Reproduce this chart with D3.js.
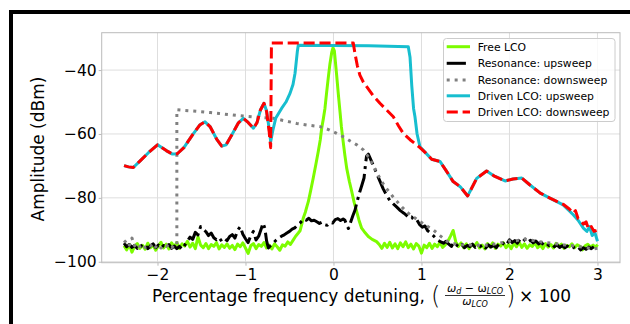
<!DOCTYPE html>
<html>
<head>
<meta charset="utf-8">
<script src="https://cdn.jsdelivr.net/npm/d3@7"></script>
<style>
  body { margin: 0; background: #fff; }
  svg { display: block; font-family: "DejaVu Sans", sans-serif; }
</style>
</head>
<body>
<div id="chart"></div>
<script>
// Tick labels
const xTicks = [-2, -1, 0, 1, 2, 3];
const yTicks = [-100, -80, -60, -40];

// Free LCO (green), [detuning %, dBm]
const freeLco = [
  [-2.38,-95.0],[-2.35,-96.3],[-2.32,-94.6],[-2.29,-97.0],[-2.26,-95.1],[-2.23,-94.3],[-2.20,-95.8],[-2.17,-94.9],
  [-2.14,-96.1],[-2.11,-94.2],[-2.08,-95.6],[-2.05,-94.8],[-2.02,-96.4],[-1.99,-95.0],[-1.96,-93.9],[-1.93,-95.7],
  [-1.90,-94.5],[-1.87,-96.0],[-1.84,-94.1],[-1.81,-95.3],[-1.78,-94.0],[-1.75,-95.8],[-1.72,-94.4],[-1.69,-95.1],
  [-1.66,-93.6],[-1.63,-95.4],[-1.60,-94.2],[-1.57,-95.9],[-1.54,-92.2],[-1.51,-94.8],[-1.48,-95.6],[-1.45,-94.3],
  [-1.42,-95.9],[-1.39,-94.6],[-1.36,-95.2],[-1.33,-94.0],[-1.30,-96.0],[-1.27,-94.7],[-1.24,-95.5],[-1.21,-94.4],
  [-1.18,-95.8],[-1.15,-94.9],[-1.12,-96.2],[-1.09,-94.5],[-1.06,-95.3],[-1.03,-94.1],[-1.00,-95.7],[-0.97,-97.4],
  [-0.94,-95.0],[-0.91,-94.3],[-0.88,-95.9],[-0.85,-94.6],[-0.82,-95.2],[-0.79,-94.0],[-0.76,-95.7],[-0.73,-94.8],
  [-0.70,-96.0],[-0.67,-94.4],[-0.64,-95.3],[-0.61,-96.4],[-0.58,-94.7],[-0.55,-95.1],[-0.52,-93.8],[-0.49,-94.6],
  [-0.46,-93.3],[-0.43,-92.0],[-0.40,-91.0],[-0.38,-90.3],[-0.36,-88.2],[-0.343,-86.3],[-0.32,-84.5],[-0.30,-82.5],
  [-0.286,-81.2],[-0.26,-77.8],[-0.23,-73.8],[-0.20,-69.5],[-0.173,-65.5],[-0.15,-61.8],[-0.134,-58.2],[-0.115,-55.2],
  [-0.097,-52.0],[-0.08,-47.5],[-0.06,-42.6],[-0.04,-38.0],[-0.02,-34.5],[-0.005,-33.0],[0.01,-34.0],[0.036,-41.6],
  [0.055,-47.5],[0.074,-53.0],[0.09,-57.8],[0.11,-62.4],[0.13,-66.8],[0.15,-70.7],[0.18,-74.8],[0.207,-78.0],
  [0.235,-81.4],[0.264,-84.3],[0.29,-87.0],[0.32,-89.5],[0.35,-90.6],[0.396,-92.1],[0.44,-93.0],[0.49,-93.7],
  [0.52,-94.6],[0.55,-95.8],[0.58,-94.2],[0.61,-95.5],[0.64,-93.9],[0.67,-95.7],[0.70,-94.4],[0.73,-95.9],
  [0.76,-94.1],[0.79,-95.3],[0.82,-93.8],[0.85,-95.6],[0.88,-94.5],[0.91,-96.0],[0.94,-94.3],[0.97,-95.1],
  [1.00,-97.3],[1.03,-94.8],[1.06,-95.6],[1.09,-94.2],[1.12,-95.8],[1.15,-94.5],[1.18,-95.3],[1.21,-93.9],
  [1.24,-95.5],[1.27,-94.7],[1.30,-93.6],[1.33,-92.0],[1.36,-90.2],[1.39,-93.8],[1.42,-95.2],[1.45,-94.1],
  [1.48,-95.6],[1.51,-94.4],[1.54,-95.9],[1.57,-94.6],[1.60,-95.2],[1.63,-94.0],[1.66,-95.7],[1.69,-94.8],
  [1.72,-96.0],[1.75,-94.3],[1.78,-95.4],[1.81,-94.1],[1.84,-95.8],[1.87,-94.5],[1.90,-95.1],[1.93,-94.0],
  [1.96,-95.6],[1.99,-94.6],[2.02,-95.9],[2.05,-94.2],[2.08,-95.3],[2.11,-93.9],[2.14,-95.5],[2.17,-94.4],
  [2.20,-95.8],[2.23,-94.7],[2.26,-95.2],[2.29,-94.1],[2.32,-95.6],[2.35,-94.8],[2.38,-95.9],[2.41,-94.3],
  [2.44,-95.4],[2.47,-94.6],[2.50,-95.7],[2.53,-94.2],[2.56,-95.1],[2.59,-94.5],[2.62,-95.8],[2.65,-94.9],
  [2.68,-95.3],[2.71,-94.4],[2.74,-95.6],[2.77,-94.7],[2.80,-95.2],[2.83,-96.3],[2.86,-95.0],[2.89,-94.5],
  [2.92,-95.4],[2.95,-94.8],[2.98,-95.5],[3.00,-94.6]
];

// Resonance: upsweep (black, dash-dot)
const resUp = [
  [-2.38,-94.2],[-2.35,-95.3],[-2.32,-94.6],[-2.29,-95.5],[-2.26,-94.9],[-2.23,-95.8],[-2.20,-94.6],[-2.17,-95.4],
  [-2.14,-94.8],[-2.11,-95.9],[-2.08,-95.0],[-2.05,-94.4],[-2.02,-95.6],[-1.99,-94.8],[-1.96,-95.7],[-1.93,-94.9],
  [-1.90,-95.4],[-1.87,-94.6],[-1.84,-95.8],[-1.81,-95.1],[-1.78,-95.9],[-1.75,-95.2],[-1.72,-96.1],[-1.69,-94.8],
  [-1.66,-93.5],[-1.63,-92.3],[-1.60,-93.0],[-1.57,-90.8],[-1.54,-91.6],[-1.51,-89.0],[-1.48,-89.8],[-1.45,-90.6],
  [-1.42,-91.8],[-1.39,-91.0],[-1.36,-92.5],[-1.33,-93.1],[-1.30,-92.4],[-1.27,-93.6],[-1.24,-92.8],[-1.21,-93.4],
  [-1.18,-92.1],[-1.15,-91.5],[-1.12,-92.6],[-1.09,-90.2],[-1.06,-89.0],[-1.03,-91.4],[-1.00,-92.8],[-0.97,-94.0],
  [-0.94,-91.8],[-0.91,-90.5],[-0.88,-93.2],[-0.85,-92.0],[-0.82,-89.6],[-0.80,-87.9],[-0.78,-89.5],[-0.76,-93.5],
  [-0.74,-95.7],[-0.71,-94.8],[-0.68,-94.0],[-0.65,-93.2],[-0.62,-92.5],[-0.59,-92.0],[-0.56,-91.6],[-0.53,-91.0],
  [-0.50,-90.5],[-0.47,-89.8],[-0.44,-89.4],[-0.41,-88.6],[-0.38,-87.9],[-0.34,-86.6],[-0.31,-87.0],[-0.28,-86.4],
  [-0.25,-87.2],[-0.22,-87.0],[-0.19,-87.5],[-0.16,-88.0],[-0.13,-87.6],[-0.10,-88.4],[-0.07,-88.6],[-0.04,-87.7],
  [-0.01,-87.9],[0.02,-86.8],[0.05,-86.5],[0.08,-87.1],[0.11,-86.6],[0.13,-87.0],[0.15,-88.5],[0.17,-89.6],
  [0.19,-88.0],[0.22,-85.6],[0.245,-83.8],[0.27,-81.0],[0.30,-78.0],[0.325,-75.8],[0.347,-73.8],[0.36,-70.5],
  [0.375,-67.0],[0.396,-66.3],[0.42,-67.8],[0.45,-69.7],[0.49,-72.3],[0.53,-74.9],[0.565,-77.2],[0.60,-79.0],
  [0.64,-80.8],[0.68,-81.9],[0.72,-82.9],[0.76,-84.0],[0.80,-84.8],[0.83,-85.5],[0.86,-86.3],[0.89,-86.0],
  [0.92,-87.2],[0.95,-87.0],[0.98,-88.4],[1.01,-89.2],[1.04,-88.8],[1.07,-90.3],[1.10,-90.9],[1.13,-91.7],
  [1.16,-92.6],[1.19,-93.3],[1.22,-93.8],[1.25,-94.2],[1.28,-93.6],[1.31,-94.5],[1.34,-95.2],[1.37,-93.9],
  [1.40,-94.8],[1.43,-95.4],[1.46,-94.6],[1.49,-95.6],[1.52,-94.9],[1.55,-95.3],[1.58,-94.5],[1.61,-95.5],
  [1.64,-94.8],[1.67,-95.2],[1.70,-94.6],[1.73,-95.7],[1.76,-94.7],[1.79,-95.4],[1.82,-94.9],[1.85,-95.6],
  [1.88,-94.4],[1.91,-94.9],[1.94,-93.8],[1.97,-94.5],[2.00,-93.1],[2.03,-94.0],[2.06,-93.4],[2.09,-94.2],
  [2.12,-93.0],[2.15,-93.7],[2.18,-92.9],[2.21,-93.8],[2.24,-93.3],[2.27,-94.1],[2.30,-93.5],[2.33,-94.4],
  [2.36,-93.9],[2.39,-94.8],[2.42,-94.2],[2.45,-95.0],[2.48,-94.5],[2.51,-95.3],[2.54,-94.7],[2.57,-95.5],
  [2.60,-95.0],[2.63,-95.6],[2.66,-95.1],[2.69,-95.8],[2.72,-95.3],[2.75,-95.9],[2.78,-95.4],[2.81,-96.3],
  [2.84,-95.6],[2.87,-96.1],[2.90,-95.4],[2.93,-95.9],[2.96,-95.3],[2.99,-96.0]
];

// Resonance: downsweep (grey, dotted)
const resDown = [
  [-2.38,-94.0],[-2.35,-93.2],[-2.32,-94.8],[-2.29,-92.6],[-2.26,-95.0],[-2.23,-94.1],[-2.20,-95.3],[-2.17,-94.5],
  [-2.14,-95.6],[-2.11,-94.7],[-2.08,-95.1],[-2.05,-94.2],[-2.02,-95.4],[-1.99,-94.6],[-1.96,-95.7],[-1.93,-94.8],
  [-1.90,-95.2],[-1.87,-94.5],[-1.84,-95.6],[-1.81,-94.9],[-1.78,-95.0],[-1.78,-52.4],[-1.70,-52.6],[-1.60,-52.8],
  [-1.517,-53.0],[-1.40,-53.3],[-1.30,-53.6],[-1.20,-53.9],[-1.10,-54.2],[-1.025,-54.4],[-0.90,-54.7],[-0.80,-54.9],
  [-0.684,-55.1],[-0.55,-55.9],[-0.418,-56.7],[-0.30,-57.2],[-0.153,-57.7],[-0.05,-58.7],[0.036,-59.8],[0.12,-61.0],
  [0.19,-62.2],[0.27,-63.5],[0.34,-65.0],[0.40,-67.3],[0.45,-69.7],[0.50,-72.5],[0.55,-75.0],[0.60,-77.0],
  [0.68,-79.8],[0.756,-82.2],[0.83,-84.4],[0.90,-85.8],[0.983,-87.4],[1.06,-88.8],[1.134,-90.0],[1.21,-91.8],
  [1.29,-93.6],[1.36,-94.3],[1.44,-94.8],[1.52,-94.6],[1.60,-95.0],[1.68,-94.7],[1.76,-94.9],[1.84,-94.4],
  [1.92,-94.0],[2.00,-93.5],[2.08,-93.4],[2.16,-92.9],[2.24,-93.2],[2.32,-93.6],[2.40,-94.0],[2.48,-94.2],
  [2.56,-94.5],[2.64,-94.8],[2.72,-95.0],[2.80,-95.3],[2.88,-95.6],[2.96,-96.0],[3.00,-95.8]
];

// Driven LCO: upsweep (cyan)
const drivenUp = [
  [-2.38,-69.9],[-2.33,-70.3],[-2.275,-70.5],[-2.2,-68.5],[-2.1,-65.8],[-2.0,-63.4],[-1.9,-65.2],[-1.83,-66.3],
  [-1.775,-66.2],[-1.7,-64.3],[-1.6,-60.2],[-1.52,-57.2],[-1.46,-56.2],[-1.40,-57.8],[-1.33,-61.5],[-1.27,-63.8],
  [-1.22,-63.4],[-1.15,-60.0],[-1.08,-56.5],[-1.025,-55.1],[-0.97,-56.4],[-0.91,-58.2],[-0.87,-56.5],[-0.83,-52.5],
  [-0.79,-50.4],[-0.76,-52.8],[-0.73,-58.5],[-0.714,-62.4],[-0.69,-59.0],[-0.657,-55.1],[-0.59,-52.0],[-0.54,-50.0],
  [-0.494,-47.3],[-0.46,-44.5],[-0.437,-41.0],[-0.41,-34.0],[-0.40,-32.2],[0.0,-32.3],[0.4,-32.4],[0.85,-32.7],
  [0.87,-36.0],[0.89,-45.0],[0.91,-52.0],[0.926,-54.6],[0.95,-60.0],[0.983,-64.0],[1.05,-66.0],[1.116,-67.9],
  [1.21,-68.6],[1.28,-71.5],[1.36,-74.9],[1.44,-76.5],[1.525,-79.4],[1.57,-77.0],[1.627,-73.9],[1.74,-71.6],
  [1.835,-73.3],[1.95,-74.7],[2.04,-74.1],[2.14,-73.8],[2.23,-75.9],[2.35,-78.5],[2.46,-80.1],[2.61,-82.2],
  [2.725,-85.3],[2.78,-87.0],[2.84,-89.5],[2.88,-90.5],[2.91,-89.0],[2.94,-91.8],[2.97,-90.8],[3.0,-93.6]
];

// Driven LCO: downsweep (red, dashed)
const drivenDown = [
  [-2.38,-69.9],[-2.33,-70.3],[-2.275,-70.5],[-2.2,-68.5],[-2.1,-65.8],[-2.0,-63.4],[-1.9,-65.2],[-1.83,-66.3],
  [-1.775,-66.2],[-1.7,-64.3],[-1.6,-60.2],[-1.52,-57.2],[-1.46,-56.2],[-1.40,-57.8],[-1.33,-61.5],[-1.27,-63.8],
  [-1.22,-63.4],[-1.15,-60.0],[-1.08,-56.5],[-1.025,-55.1],[-0.97,-56.4],[-0.91,-58.2],[-0.87,-56.5],[-0.83,-52.5],
  [-0.79,-50.4],[-0.76,-53.0],[-0.73,-59.5],[-0.714,-64.3],[-0.705,-31.5],[0.225,-31.5],[0.244,-34.8],[0.27,-38.5],
  [0.30,-41.6],[0.34,-43.8],[0.377,-45.2],[0.45,-48.0],[0.528,-50.4],[0.60,-52.4],[0.68,-54.6],[0.74,-57.5],
  [0.793,-59.8],[0.87,-61.8],[0.945,-63.4],[0.983,-64.3],[1.05,-66.0],[1.116,-67.9],[1.21,-68.6],[1.28,-71.5],
  [1.36,-74.9],[1.44,-76.5],[1.525,-79.4],[1.57,-77.0],[1.627,-73.9],[1.74,-71.6],[1.835,-73.3],[1.95,-74.7],
  [2.04,-74.1],[2.14,-73.8],[2.23,-75.9],[2.35,-78.5],[2.46,-80.1],[2.61,-82.0],[2.68,-83.5],[2.725,-84.8],
  [2.75,-84.0],[2.78,-86.5],[2.81,-87.2],[2.84,-88.2],[2.87,-87.5],[2.90,-89.8],[2.93,-89.0],[2.96,-90.5],[2.99,-90.2]
];

const series = [
  { name: 'Free LCO', data: freeLco, color: '#7cfc00', dash: null },
  { name: 'Resonance: upsweep', data: resUp, color: '#000000', dash: '19.2,4.8,3,4.8' },
  { name: 'Resonance: downsweep', data: resDown, color: '#808080', dash: '3,4.95' },
  { name: 'Driven LCO: upsweep', data: drivenUp, color: '#17becf', dash: null },
  { name: 'Driven LCO: downsweep', data: drivenDown, color: '#ff0000', dash: '11.1,4.8' }
];

const W = 630, H = 324;
const plot = { left: 101.7, right: 620, top: 32.7, bottom: 262.7 };

const svg = d3.select('#chart').append('svg')
  .attr('width', W).attr('height', H);

// outer black frame (runs off the right and bottom edges)
svg.append('rect')
  .attr('x', 11).attr('y', 12).attr('width', 700).attr('height', 400)
  .attr('fill', 'none').attr('stroke', '#000').attr('stroke-width', 4);

const x = d3.scaleLinear().domain([-2.634, 3.256]).range([plot.left, plot.right]);
const y = d3.scaleLinear().domain([-100.3, -28.3]).range([plot.bottom, plot.top]);

// grid
const grid = svg.append('g');
grid.selectAll('.gx').data(xTicks).enter().append('line')
  .attr('x1', d => x(d)).attr('x2', d => x(d))
  .attr('y1', plot.top).attr('y2', plot.bottom)
  .attr('stroke', '#dedede').attr('stroke-width', 1);
grid.selectAll('.gy').data(yTicks).enter().append('line')
  .attr('x1', plot.left).attr('x2', plot.right)
  .attr('y1', d => y(d)).attr('y2', d => y(d))
  .attr('stroke', '#dedede').attr('stroke-width', 1);

// axes
const fmt = d => (d < 0 ? '\u2212' + Math.abs(d) : String(d));
const xAxis = svg.append('g')
  .attr('transform', `translate(0,${plot.bottom})`)
  .call(d3.axisBottom(x).tickValues(xTicks).tickFormat(fmt).tickSize(3).tickPadding(3));
const yAxis = svg.append('g')
  .attr('transform', `translate(${plot.left},0)`)
  .call(d3.axisLeft(y).tickValues(yTicks).tickFormat(fmt).tickSize(3).tickPadding(2));
[xAxis, yAxis].forEach(a => {
  a.select('.domain').remove();
  a.selectAll('line').attr('stroke', '#bbb');
  a.selectAll('text').attr('fill', '#000')
    .style('font-family', '"DejaVu Sans", sans-serif').style('font-size', '15.5px');
});

// clip + lines
svg.append('clipPath').attr('id', 'clip').append('rect')
  .attr('x', plot.left).attr('y', plot.top)
  .attr('width', plot.right - plot.left).attr('height', plot.bottom - plot.top);

const line = d3.line().x(d => x(d[0])).y(d => y(d[1]));
const lines = svg.append('g').attr('clip-path', 'url(#clip)');
series.forEach(s => {
  lines.append('path')
    .datum(s.data)
    .attr('d', line)
    .attr('fill', 'none')
    .attr('stroke', s.color)
    .attr('stroke-width', 3)
    .attr('stroke-linejoin', 'round')
    .attr('stroke-dasharray', s.dash);
});

// spines
svg.append('rect')
  .attr('x', plot.left).attr('y', plot.top)
  .attr('width', plot.right - plot.left).attr('height', plot.bottom - plot.top)
  .attr('fill', 'none').attr('stroke', '#bbb').attr('stroke-width', 1);

// legend
const lg = svg.append('g');
lg.append('rect')
  .attr('x', 443.5).attr('y', 38.5).attr('width', 171.5).attr('height', 83)
  .attr('rx', 3).attr('fill', '#fff').attr('fill-opacity', 0.8)
  .attr('stroke', '#ccc').attr('stroke-width', 1);
const rowY = [46.7, 63.3, 80, 95.8, 112];
series.forEach((s, i) => {
  lg.append('line')
    .attr('x1', 446.7).attr('x2', 470).attr('y1', rowY[i]).attr('y2', rowY[i])
    .attr('stroke', s.color).attr('stroke-width', 3)
    .attr('stroke-dasharray', s.dash);
  lg.append('text')
    .attr('x', 477.7).attr('y', rowY[i]).attr('dy', '0.36em')
    .style('font-size', '10.8px').attr('fill', '#000')
    .text(s.name);
});

// y label
svg.append('text')
  .attr('transform', 'translate(44,149) rotate(-90)')
  .attr('text-anchor', 'middle')
  .style('font-size', '17px')
  .text('Amplitude (dBm)');

// x label with fraction
const xl = svg.append('g');
xl.append('text').attr('x', 152).attr('y', 302).style('font-size', '17px')
  .text('Percentage frequency detuning,');
xl.append('text').attr('x', 431).attr('y', 304).style('font-size', '24px')
  .style('font-weight', '200').text('(');
const num = xl.append('text').attr('x', 475).attr('y', 292).attr('text-anchor', 'middle')
  .style('font-size', '11px').style('font-style', 'italic');
num.append('tspan').text('ω');
num.append('tspan').attr('dy', 2).style('font-size', '8px').text('d');
num.append('tspan').attr('dy', -2).style('font-style', 'normal').text(' \u2212 ω');
num.append('tspan').attr('dy', 2).style('font-size', '8px').text('LCO');
xl.append('line').attr('x1', 445).attr('x2', 505).attr('y1', 295.5).attr('y2', 295.5)
  .attr('stroke', '#000').attr('stroke-width', 0.8);
const den = xl.append('text').attr('x', 475).attr('y', 305).attr('text-anchor', 'middle')
  .style('font-size', '11px').style('font-style', 'italic');
den.append('tspan').text('ω');
den.append('tspan').attr('dy', 2).style('font-size', '8px').text('LCO');
xl.append('text').attr('x', 506).attr('y', 304).style('font-size', '24px')
  .style('font-weight', '200').text(')');
xl.append('text').attr('x', 519).attr('y', 302).style('font-size', '17px')
  .text('\u00d7 100');
</script>
</body>
</html>
